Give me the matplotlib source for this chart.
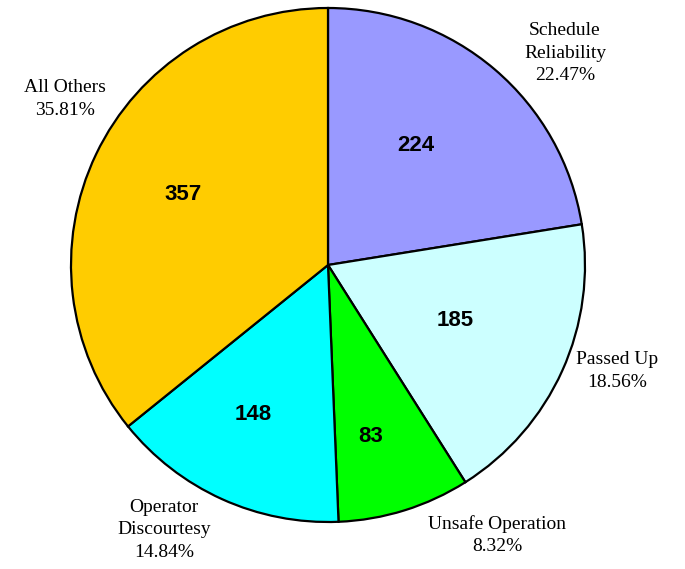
import matplotlib
matplotlib.use("Agg")
import matplotlib.pyplot as plt

categories = ["Schedule\nReliability", "Passed Up", "Unsafe Operation",
              "Operator\nDiscourtesy", "All Others"]
counts = [224, 185, 83, 148, 357]
colors = ["#9999FF", "#CCFFFF", "#00FF00", "#00FFFF", "#FFCC00"]

W, H = 685, 569
fig = plt.figure(figsize=(W / 100, H / 100), dpi=100)
ax = fig.add_axes([0, 0, 1, 1])

cx, cy, r = 328, H - 265, 257
total = sum(counts)
wedges, texts, autotexts = ax.pie(
    counts, colors=colors, startangle=90, counterclock=False,
    center=(cx, cy), radius=r, frame=True,
    wedgeprops=dict(edgecolor="black", linewidth=1.6),
    autopct=lambda p: f"{round(p * total / 100):d}",
    textprops=dict(fontsize=16, fontweight="bold", family="Liberation Sans"),
)
ax.set_xlim(0, W)
ax.set_ylim(0, H)
ax.set_aspect("equal")
ax.axis("off")

# value labels sit where the original put them, not on a fixed radius
value_pos = [(416, 145), (455, 321), (371, 436), (253, 414), (183, 194)]
for t, (x, y) in zip(autotexts, value_pos):
    t.set_position((x, H - y))

# outside labels: name + percentage
label_pos = [(565, 53), (617, 371), (497, 535), (164, 530), (65, 99)]
for name, n, (x, y) in zip(categories, counts, label_pos):
    ax.text(x, H - y, f"{name}\n{n / total * 100:.2f}%", ha="center", va="center",
            fontsize=14, family="Liberation Serif", linespacing=1.4)

fig.savefig("out.png", dpi=100, facecolor="white")
